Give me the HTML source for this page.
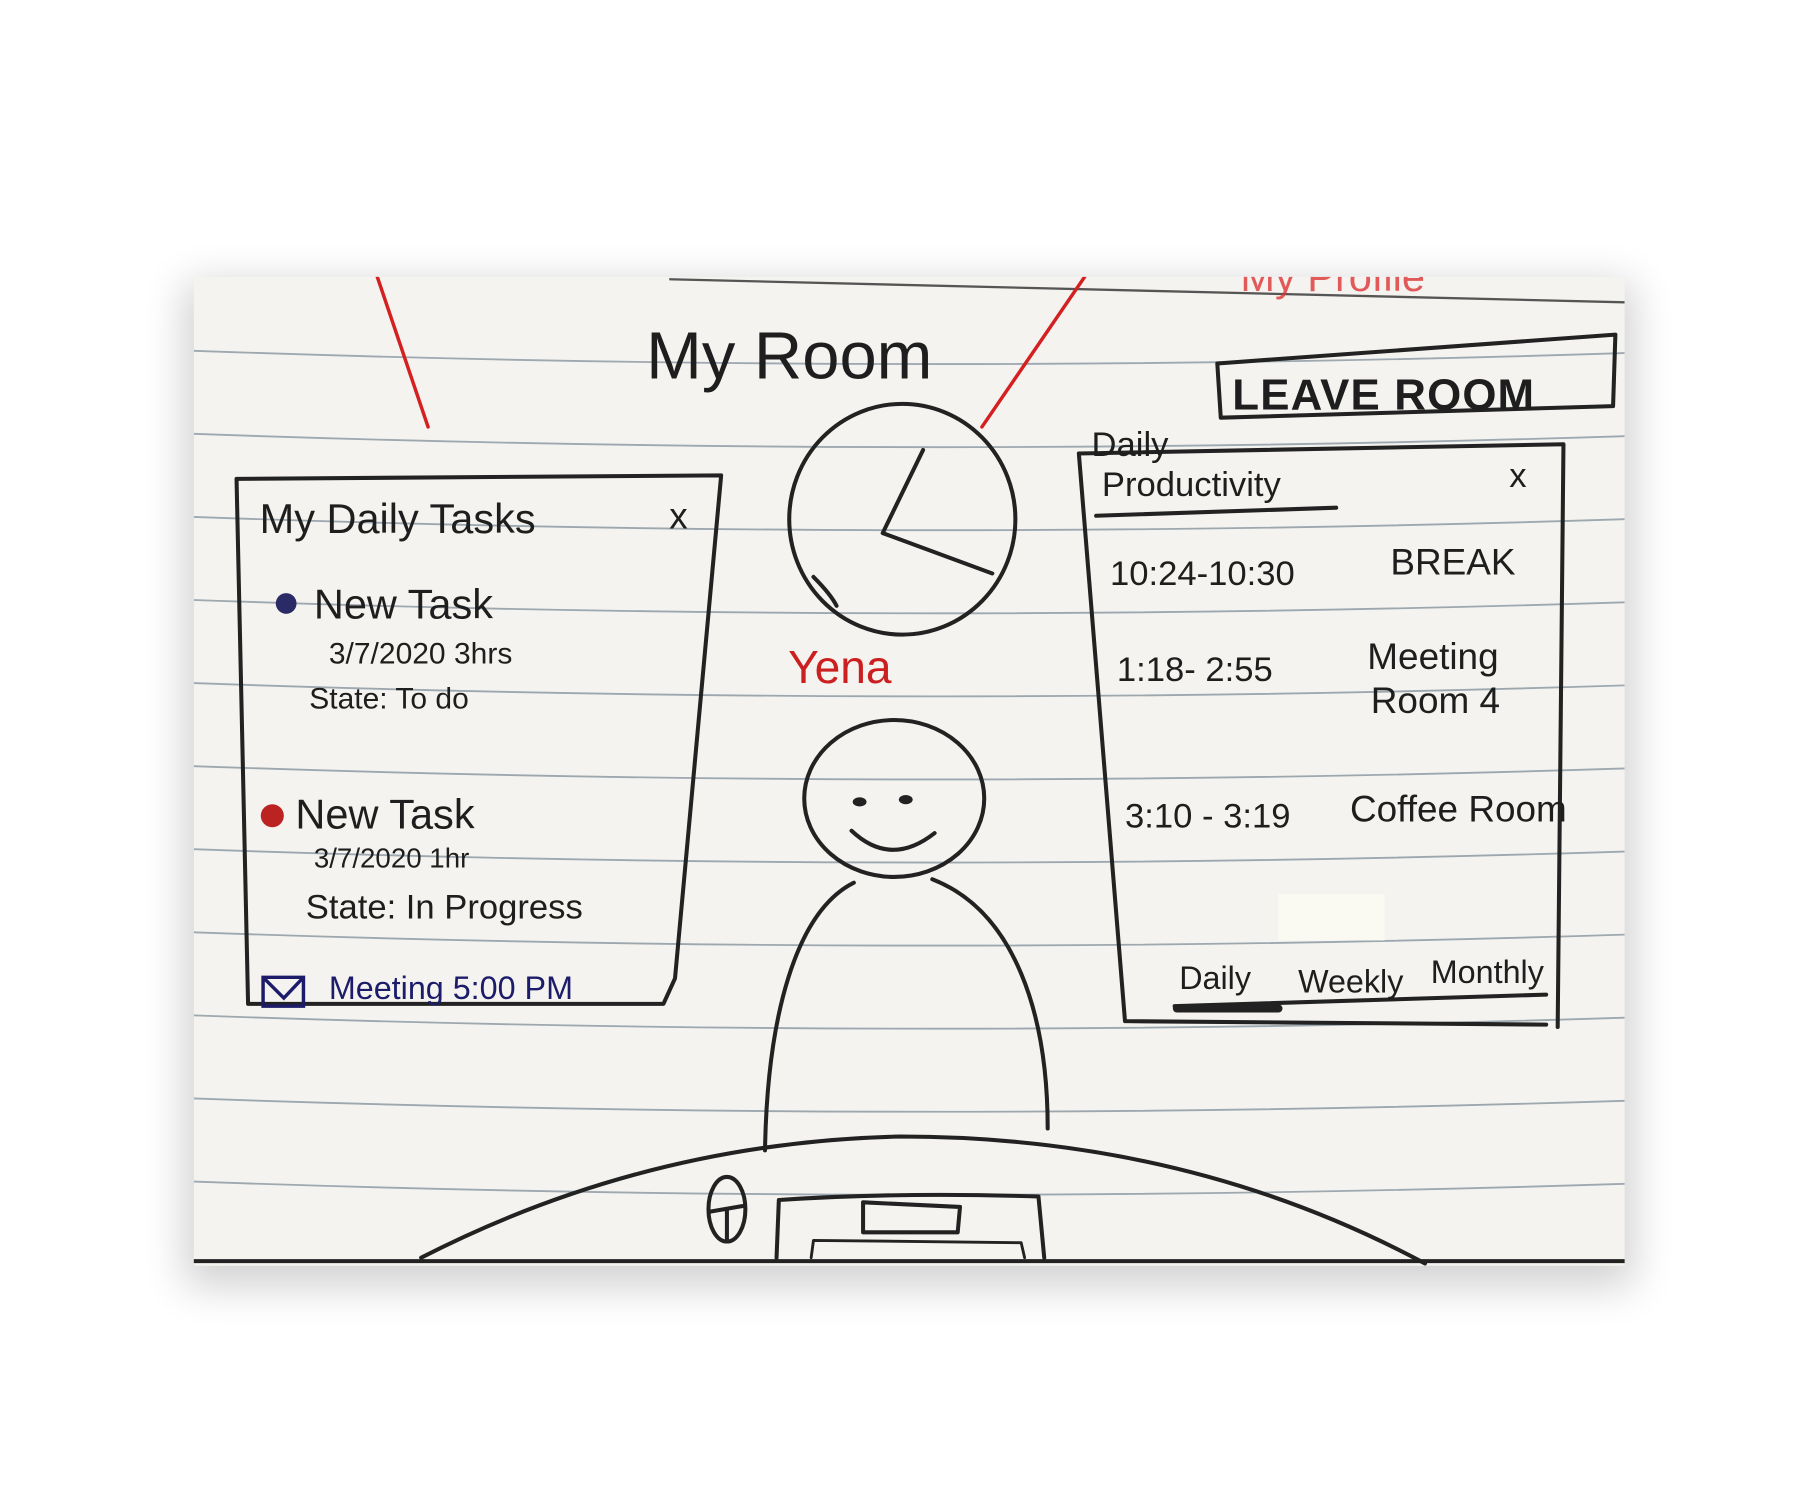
<!DOCTYPE html>
<html><head><meta charset="utf-8"><style>
html,body{margin:0;padding:0;background:#fff;}
svg{display:block;}
text{font-family:"Liberation Sans",sans-serif;}
</style></head><body>
<svg width="1800" height="1500" viewBox="0 0 1560 1300" xmlns="http://www.w3.org/2000/svg">
<defs>
<filter id="sh" x="-10%" y="-10%" width="120%" height="120%"><feGaussianBlur stdDeviation="18"/></filter>
<clipPath id="pc"><rect x="168" y="240" width="1240" height="857"/></clipPath>
</defs>
<rect width="1560" height="1300" fill="#fff"/>
<rect x="160" y="245" width="1256" height="870" fill="#000" opacity="0.18" filter="url(#sh)"/>
<rect x="168" y="240" width="1240" height="857" fill="#f4f3ef"/>
<g clip-path="url(#pc)">
<g stroke="#8e9aa4" stroke-width="1.6" fill="none" opacity="0.85">
<path d="M168,304 Q780,326 1408,306"/>
<path d="M168,376 Q780,398 1408,378"/>
<path d="M168,448 Q780,470 1408,450"/>
<path d="M168,520 Q780,542 1408,522"/>
<path d="M168,592 Q780,614 1408,594"/>
<path d="M168,664 Q780,686 1408,666"/>
<path d="M168,736 Q780,758 1408,738"/>
<path d="M168,808 Q780,830 1408,810"/>
<path d="M168,880 Q780,902 1408,882"/>
<path d="M168,952 Q780,974 1408,954"/>
<path d="M168,1024 Q780,1046 1408,1026"/>
</g>
<path d="M580,242 Q1000,252 1408,262" stroke="#555" stroke-width="2" fill="none"/>
<text x="1075" y="252" font-size="36" fill="#d33" opacity="0.8">My  Profile</text>
<g stroke="#222" stroke-width="3.5" fill="none" stroke-linecap="round" stroke-linejoin="round">
<path d="M327,240 L371,370" stroke="#d42020" stroke-width="3"/>
<path d="M940,240 L851,370" stroke="#d42020" stroke-width="3"/>
<path d="M1055,315 L1400,290 L1398,352 L1058,362 Z"/>
<path d="M205,415 L625,412 L585,848 L575,870 L215,870 Z"/>
<ellipse cx="782" cy="450" rx="98" ry="100"/>
<path d="M800,390 L765,462 L860,497"/>
<path d="M705,500 Q720,515 725,525"/>
<ellipse cx="775" cy="692" rx="78" ry="68"/>
<path d="M738,720 Q772,752 810,722"/>
<path d="M740,765 C690,790 665,880 663,997"/>
<path d="M808,762 C880,790 908,880 908,978"/>
<path d="M365,1090 Q560,990 780,985 Q1030,985 1235,1095"/>
<path d="M168,1093 L1408,1093"/>
<ellipse cx="630" cy="1048" rx="16" ry="28"/>
<path d="M616,1050 L645,1045 M630,1048 L630,1074"/>
<path d="M673,1090 L675,1040 Q780,1033 900,1037 L905,1090"/>
<path d="M748,1042 L832,1046 L830,1068 L748,1068 Z"/>
<path d="M703,1090 L705,1075 L885,1077 L888,1090" stroke-width="2.5"/>
<path d="M935,393 L1355,385 L1350,890 M935,393 L975,885 L1340,888"/>
<path d="M950,447 L1158,440"/>
<path d="M1018,872 L1340,862"/>
<path d="M1020,874 L1108,874" stroke-width="7"/>
</g>
<ellipse cx="745" cy="695" rx="6" ry="4" fill="#222"/>
<ellipse cx="785" cy="693" rx="6" ry="4" fill="#222"/>
<rect x="1108" y="775" width="92" height="40" fill="#fbfaf2"/>
<g fill="#1e1e1e">
<text x="560" y="328" font-size="58">My Room</text>
<text x="1068" y="355" font-size="38" font-weight="bold" letter-spacing="1">LEAVE  ROOM</text>
<text x="225" y="462" font-size="36">My Daily Tasks</text>
<text x="580" y="458" font-size="32">x</text>
<circle cx="248" cy="523" r="9" fill="#2a2a66"/>
<text x="272" y="536" font-size="36">New Task</text>
<text x="285" y="575" font-size="26">3/7/2020    3hrs</text>
<text x="268" y="614" font-size="26">State: To do</text>
<circle cx="236" cy="707" r="10" fill="#b22"/>
<text x="256" y="718" font-size="36">New Task</text>
<text x="272" y="752" font-size="24">3/7/2020     1hr</text>
<text x="265" y="796" font-size="30">State: In Progress</text>
<text x="683" y="592" font-size="40" fill="#cc2020">Yena</text>
<text x="946" y="395" font-size="30">Daily</text>
<text x="955" y="430" font-size="30">Productivity</text>
<text x="1308" y="422" font-size="30">x</text>
<text x="962" y="507" font-size="30">10:24-10:30</text>
<text x="1205" y="498" font-size="32">BREAK</text>
<text x="968" y="590" font-size="30">1:18- 2:55</text>
<text x="1185" y="580" font-size="32">Meeting</text>
<text x="1188" y="618" font-size="32">Room 4</text>
<text x="975" y="717" font-size="30">3:10 - 3:19</text>
<text x="1170" y="712" font-size="32">Coffee Room</text>
<text x="1022" y="857" font-size="28">Daily</text>
<text x="1125" y="860" font-size="28">Weekly</text>
<text x="1240" y="852" font-size="28">Monthly</text>
</g>
<g fill="#1c1c6a">
<path d="M228,847 L263,847 L263,872 L228,872 Z M228,847 L246,865 L263,847" fill="none" stroke="#1c1c6a" stroke-width="3"/>
<text x="285" y="866" font-size="28">Meeting  5:00 PM</text>
</g>
</g>
</svg>
</body></html>
